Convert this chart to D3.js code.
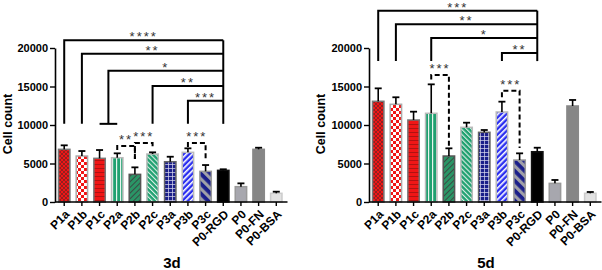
<!DOCTYPE html>
<html>
<head>
<meta charset="utf-8">
<style>
body { margin: 0; background: #fff; }
svg { display: block; font-family: "Liberation Sans", Arial, sans-serif; }
.tick text { font-family: "Liberation Sans", Arial, sans-serif; font-size: 11px; font-weight: bold; fill: #000; }
.xax .tick text { font-size: 12px; }
.ylabel { font-size: 12.5px; font-weight: bold; }
.title { font-size: 15px; font-weight: bold; }
.stars { font-size: 13px; fill: #333; letter-spacing: 2px; }
</style>
<script src="https://cdn.jsdelivr.net/npm/d3@7"></script>
</head>
<body>
<svg width="602" height="270"></svg>
<script>
var categories = ["P1a", "P1b", "P1c", "P2a", "P2b", "P2c", "P3a", "P3b", "P3c", "P0-RGD", "P0", "P0-FN", "P0-BSA"];
var yTicks = [0, 5000, 10000, 15000, 20000];

// day 3
var mean3d = [6840, 5970, 5670, 5750, 3590, 6230, 5230, 6450, 3980, 4110, 1990, 6840, 1130];
var err3d  = [520, 650, 1080, 570, 910, 220, 650, 520, 820, 140, 430, 210, 210];
// day 5
var mean5d = [13080, 12690, 10650, 11520, 5970, 9700, 9050, 11690, 5450, 6530, 2420, 12470, 1130];
var err5d  = [1680, 910, 1080, 3760, 1000, 600, 300, 1340, 870, 520, 440, 780, 170];

// significance brackets: from (category or pair), to, level, drop level, label
var sig3d = [
  { from: "P1a", to: "P0-RGD", level: 21000, drop: 10150, label: "****" },
  { from: "P1b", to: "P0-RGD", level: 19250, drop: 10150, label: "**" },
  { from: ["P1c", "P2a"], to: "P0-RGD", level: 17050, drop: 10150, label: "*" },
  { from: "P2c", to: "P0-RGD", level: 15050, drop: 10150, label: "**" },
  { from: "P3b", to: "P0-RGD", level: 13150, drop: 10150, label: "***" }
];
var dash3d = [
  { from: "P2a", to: "P2b", level: 7270, dropL: 6750, dropR: 5580, label: "**" },
  { from: "P2b", to: "P2c", level: 7660, dropL: 5580, dropR: 7140, label: "***" },
  { from: "P3b", to: "P3c", level: 7660, dropL: 7140, dropR: 5450, label: "***" }
];
var sig5d = [
  { from: "P1a", to: "P0-RGD", level: 24850, drop: 18300, label: "***" },
  { from: "P1b", to: "P0-RGD", level: 23080, drop: 18300, label: "**" },
  { from: "P2a", to: "P0-RGD", level: 21300, drop: 18300, label: "*" },
  { from: "P3b", to: "P0-RGD", level: 19350, drop: 18300, label: "**" }
];
var dash5d = [
  { from: "P2a", to: "P2b", level: 16490, dropL: 15900, dropR: 7300, label: "***" },
  { from: "P3b", to: "P3c", level: 14450, dropL: 13600, dropR: 7000, label: "***" }
];

var red = "#f01616", green = "#1fa070", navy = "#1b1f8a", blue = "#2a2ef0";
var borders = ["#777", "#aaa", "#777", "#bbb", "#555", "#bbb", "#666", "#bbb", "#999", "#111", "#999", "#888", "#ccc"];

var svg = d3.select("svg");
var defs = svg.append("defs");

function pat(id, w, h, bg, tr) {
  var p = defs.append("pattern").attr("id", id).attr("patternUnits", "userSpaceOnUse")
    .attr("width", w).attr("height", h);
  if (tr) p.attr("patternTransform", tr);
  p.append("rect").attr("width", w).attr("height", h).attr("fill", bg);
  return p;
}
// P1a crosshatch
pat("p0", 4, 4, red).append("path").attr("d", "M0,0L4,4M4,0L0,4").attr("stroke", "#8a2020").attr("stroke-width", 0.9);
// P1b checker
var pb = pat("p1", 6, 6, "#fff");
pb.append("rect").attr("width", 3).attr("height", 3).attr("fill", red);
pb.append("rect").attr("x", 3).attr("y", 3).attr("width", 3).attr("height", 3).attr("fill", red);
// P1c horizontal lines
pat("p2", 4, 4, red).append("rect").attr("width", 4).attr("height", 1).attr("fill", "#b01212");
// P2a vertical white lines
pat("p3", 4, 4, green).append("rect").attr("width", 1.2).attr("height", 4).attr("fill", "#e8f5ef");
// P2b dark diagonal
pat("p4", 4, 4, "#2a9566", "rotate(45)").append("rect").attr("width", 1).attr("height", 4).attr("fill", "#3a4a44");
// P2c white diagonal
pat("p5", 3.5, 3.5, green, "rotate(-45)").append("rect").attr("width", 1.1).attr("height", 3.5).attr("fill", "#e0f0e8");
// P3a grid
pat("p6", 4, 4, navy).append("path").attr("d", "M0,0.4H4M0.4,0V4").attr("stroke", "#d8d8ee").attr("stroke-width", 0.8);
// P3b white diagonal
pat("p7", 4, 4, blue, "rotate(45)").append("rect").attr("width", 1.6).attr("height", 4).attr("fill", "#fff");
// P3c wide stripes
pat("p8", 7, 7, navy, "rotate(-45)").append("rect").attr("width", 3.2).attr("height", 7).attr("fill", "#a0a0a8");

var fills = ["url(#p0)", "url(#p1)", "url(#p2)", "url(#p3)", "url(#p4)", "url(#p5)", "url(#p6)", "url(#p7)", "url(#p8)",
  "#000", "#a7a7ae", "#868686", "#e2e2e2"];

function drawPanel(opt) {
  var g = svg.append("g");
  var x = d3.scaleBand().domain(categories).range([opt.x0, opt.x1]).paddingInner(0.27).paddingOuter(0.1);
  var y = d3.scaleLinear().domain([0, 20000]).range([202, 48]);
  var cx = function(c) { return x(c) + x.bandwidth() / 2; };

  // bars
  g.selectAll(".bar").data(opt.means).enter().append("rect")
    .attr("x", function(d, i) { return x(categories[i]) + 0.75; })
    .attr("width", x.bandwidth() - 1.5)
    .attr("y", function(d) { return y(d); })
    .attr("height", function(d) { return y(0) - y(d); })
    .attr("fill", function(d, i) { return fills[i]; })
    .attr("stroke", function(d, i) { return borders[i]; })
    .attr("stroke-width", 1.5);

  // error bars (upper only)
  var eb = g.selectAll(".err").data(opt.means).enter().append("g");
  eb.append("line")
    .attr("x1", function(d, i) { return cx(categories[i]); })
    .attr("x2", function(d, i) { return cx(categories[i]); })
    .attr("y1", function(d) { return y(d); })
    .attr("y2", function(d, i) { return y(d + opt.errs[i]); })
    .attr("stroke", "#000").attr("stroke-width", 1.6);
  eb.append("line")
    .attr("x1", function(d, i) { return cx(categories[i]) - 3.5; })
    .attr("x2", function(d, i) { return cx(categories[i]) + 3.5; })
    .attr("y1", function(d, i) { return y(d + opt.errs[i]); })
    .attr("y2", function(d, i) { return y(d + opt.errs[i]); })
    .attr("stroke", "#000").attr("stroke-width", 1.8);

  // y axis
  var ya = g.append("g").attr("transform", "translate(" + (opt.x0 - 1) + ",0)")
    .call(d3.axisLeft(y).tickValues(yTicks).tickFormat(d3.format("d")).tickSize(5).tickSizeOuter(0).tickPadding(2));
  ya.select(".domain").attr("stroke-width", 1.6);
  ya.selectAll(".tick line").attr("stroke-width", 1.4);

  // x axis
  var xa = g.append("g").attr("class", "xax").attr("transform", "translate(0,202)")
    .call(d3.axisBottom(x).tickSize(4).tickSizeOuter(0));
  xa.select(".domain").attr("d", "M" + (opt.x0 - 1) + ",0H" + (opt.x1 + 3)).attr("stroke-width", 1.6);
  xa.selectAll(".tick line").attr("stroke-width", 1.4);
  xa.selectAll(".tick text")
    .attr("text-anchor", "end")
    .attr("transform", "translate(-2,5) rotate(-45)")
    .attr("dy", "0.7em").attr("y", 3).attr("x", 0);

  // y label & title
  g.append("text").attr("class", "ylabel").attr("text-anchor", "middle")
    .attr("transform", "translate(" + opt.ylx + ",124) rotate(-90)").text("Cell count");
  g.append("text").attr("class", "title").attr("text-anchor", "middle")
    .attr("x", opt.tx).attr("y", 268).text(opt.title);

  // solid brackets
  var right = cx(opt.sig[0].to);
  opt.sig.forEach(function(s) {
    var lx = Array.isArray(s.from) ? (cx(s.from[0]) + cx(s.from[1])) / 2 : cx(s.from);
    g.append("path")
      .attr("d", "M" + lx + "," + y(s.drop) + "V" + y(s.level) + "H" + right)
      .attr("fill", "none").attr("stroke", "#000").attr("stroke-width", 2);
    if (Array.isArray(s.from)) {
      g.append("path").attr("d", "M" + cx(s.from[0]) + "," + y(s.drop) + "H" + cx(s.from[1]))
        .attr("stroke", "#000").attr("stroke-width", 2);
    }
    g.append("text").attr("class", "stars").attr("text-anchor", "middle")
      .attr("x", (lx + right) / 2).attr("y", y(s.level) + 1).text(s.label);
  });
  g.append("path")
    .attr("d", "M" + right + "," + y(opt.sig[0].level) + "V" + y(opt.sig[0].drop))
    .attr("stroke", "#000").attr("stroke-width", 2);

  // dashed brackets
  opt.dash.forEach(function(s) {
    var a = cx(s.from), b = cx(s.to);
    g.append("path")
      .attr("d", "M" + a + "," + y(s.dropL) + "V" + y(s.level) + "H" + b + "V" + y(s.dropR))
      .attr("fill", "none").attr("stroke", "#000").attr("stroke-width", 2)
      .attr("stroke-dasharray", "5,3");
    g.append("text").attr("class", "stars").attr("text-anchor", "middle")
      .attr("x", (a + b) / 2).attr("y", y(s.level) - 2).text(s.label);
  });
}

drawPanel({ x0: 56, x1: 284.5, means: mean3d, errs: err3d, sig: sig3d, dash: dash3d, title: "3d", tx: 172, ylx: 12 });
drawPanel({ x0: 370, x1: 598.5, means: mean5d, errs: err5d, sig: sig5d, dash: dash5d, title: "5d", tx: 486, ylx: 325 });
</script>
</body>
</html>
